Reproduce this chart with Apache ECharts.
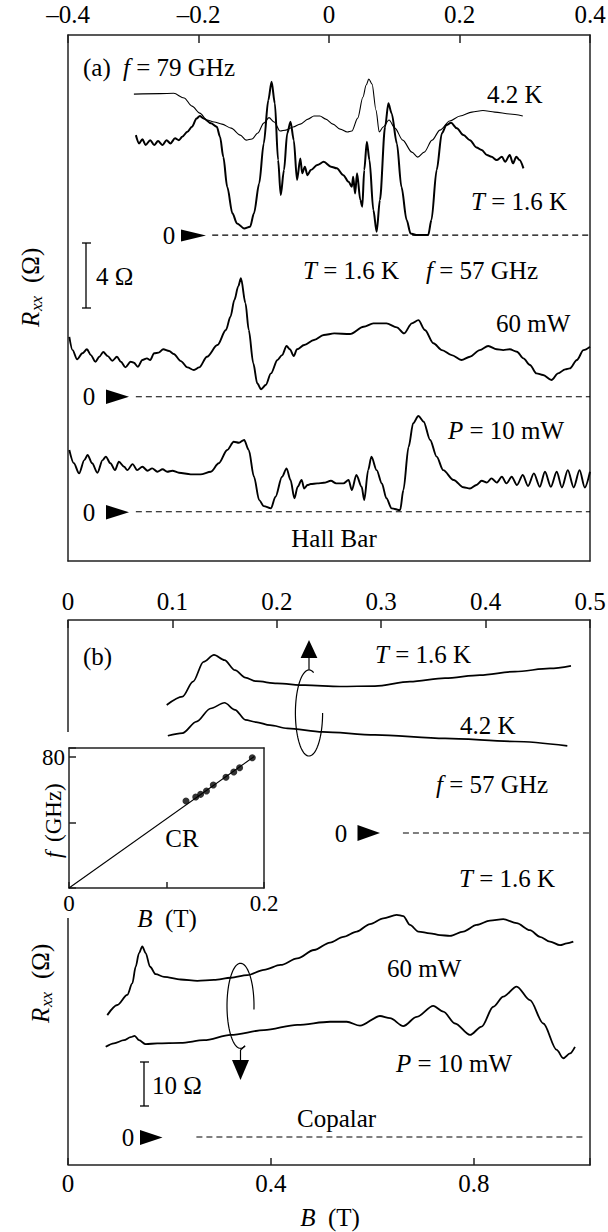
<!DOCTYPE html>
<html><head><meta charset="utf-8">
<script src="https://cdn.jsdelivr.net/npm/echarts@6/dist/echarts.min.js"></script>
<style>html,body{margin:0;padding:0;background:#fff}#c{width:608px;height:1232px}</style>
</head><body><div id="c"></div>
<script>
// ---------- Panel (a), f = 79 GHz : B (T), Rxx (Ohm, relative to own zero) ----------
const a79_T42_B = [-0.299,-0.259,-0.238,-0.222,-0.210,-0.198,-0.187,-0.176,-0.164,-0.150,-0.136,-0.127,-0.118,-0.109,-0.100,-0.092,-0.084,-0.075,-0.066,-0.055,-0.044,-0.032,-0.023,-0.014,-0.005,0.006,0.017,0.028,0.035,0.044,0.052,0.057,0.061,0.066,0.072,0.077,0.083,0.092,0.101,0.113,0.127,0.136,0.146,0.158,0.170,0.185,0.201,0.219,0.236,0.254,0.277,0.297];
const a79_T42_R = [8.70,8.73,8.75,8.46,7.96,7.53,7.10,6.98,6.85,6.60,6.17,5.86,5.93,6.30,6.91,7.25,6.98,6.42,6.48,6.67,6.85,7.16,7.35,7.35,7.16,6.85,6.54,6.36,6.42,7.22,8.52,9.26,9.63,9.32,7.72,6.36,6.67,7.10,6.60,5.86,5.12,4.81,5.12,5.86,6.48,7.04,7.35,7.59,7.69,7.59,7.47,7.35];
const a79_T16_B = [-0.296,-0.291,-0.286,-0.281,-0.274,-0.268,-0.262,-0.255,-0.249,-0.243,-0.236,-0.230,-0.225,-0.217,-0.210,-0.203,-0.198,-0.192,-0.181,-0.172,-0.167,-0.162,-0.156,-0.148,-0.141,-0.130,-0.121,-0.115,-0.107,-0.100,-0.093,-0.088,-0.083,-0.078,-0.074,-0.069,-0.064,-0.059,-0.054,-0.049,-0.044,-0.041,-0.037,-0.033,-0.028,-0.018,-0.008,0.003,0.012,0.022,0.030,0.035,0.037,0.040,0.043,0.048,0.051,0.054,0.058,0.062,0.068,0.073,0.078,0.086,0.091,0.096,0.104,0.111,0.119,0.125,0.134,0.152,0.157,0.165,0.173,0.180,0.187,0.196,0.206,0.216,0.226,0.234,0.242,0.249,0.257,0.265,0.270,0.277,0.282,0.287,0.292,0.298];
const a79_T16_R = [6.17,5.66,5.91,5.56,5.86,5.56,5.80,5.56,5.86,5.66,5.97,5.86,6.07,6.38,6.69,7.20,7.35,7.20,6.90,6.69,6.07,4.83,2.98,1.34,0.72,0.41,0.51,1.34,3.19,5.66,8.33,9.46,8.13,4.63,2.47,4.01,6.28,6.99,5.86,3.40,4.73,3.81,4.22,3.70,4.01,4.32,4.52,4.22,4.12,3.70,3.29,2.98,3.60,2.57,3.81,2.16,1.75,4.01,5.76,4.63,1.54,0.20,2.16,6.69,8.13,7.51,5.66,2.98,0.93,0.10,0.0,0.0,0.93,4.01,6.28,6.79,6.93,6.59,6.17,5.86,5.41,5.25,4.94,4.83,4.63,4.83,4.52,4.94,4.43,4.83,4.63,4.12];
// ---------- Panel (a), f = 57 GHz ----------
const a57_P60_B = [-0.398,-0.393,-0.386,-0.378,-0.371,-0.365,-0.358,-0.352,-0.346,-0.339,-0.332,-0.325,-0.319,-0.312,-0.304,-0.299,-0.293,-0.286,-0.279,-0.274,-0.268,-0.261,-0.254,-0.245,-0.238,-0.227,-0.217,-0.207,-0.199,-0.187,-0.171,-0.158,-0.151,-0.145,-0.139,-0.135,-0.128,-0.123,-0.116,-0.110,-0.104,-0.097,-0.089,-0.079,-0.072,-0.065,-0.060,-0.054,-0.049,-0.038,-0.023,-0.008,0.008,0.032,0.053,0.068,0.088,0.104,0.115,0.127,0.137,0.147,0.160,0.173,0.188,0.203,0.216,0.231,0.244,0.257,0.267,0.277,0.288,0.298,0.308,0.318,0.328,0.341,0.351,0.362,0.369,0.380,0.390,0.400];
const a57_P60_R = [3.70,2.88,2.31,2.68,2.93,2.57,2.16,2.47,2.76,2.51,2.22,2.47,2.16,1.81,2.16,2.10,1.85,2.27,2.37,2.27,2.68,2.72,2.93,2.82,2.64,2.20,1.81,1.65,1.81,2.47,3.19,4.12,4.94,5.97,6.83,7.31,5.77,4.12,2.06,0.83,0.46,0.72,1.44,2.27,2.57,3.13,2.93,2.51,2.93,3.19,3.50,3.81,3.91,3.87,4.32,4.53,4.53,4.28,3.91,4.53,4.73,4.12,3.30,2.88,2.57,2.27,2.47,2.88,3.13,2.93,2.88,2.93,2.78,2.37,1.96,1.44,1.34,1.03,1.44,1.69,1.75,2.27,2.88,3.09];
const a57_P10_B = [-0.398,-0.391,-0.383,-0.375,-0.370,-0.363,-0.355,-0.347,-0.342,-0.335,-0.328,-0.322,-0.314,-0.309,-0.301,-0.294,-0.286,-0.278,-0.271,-0.263,-0.255,-0.248,-0.240,-0.230,-0.212,-0.197,-0.181,-0.169,-0.156,-0.146,-0.138,-0.130,-0.123,-0.115,-0.107,-0.100,-0.089,-0.082,-0.072,-0.065,-0.059,-0.053,-0.048,-0.042,-0.038,-0.033,-0.028,-0.018,-0.008,0.003,0.011,0.022,0.030,0.035,0.042,0.050,0.054,0.060,0.065,0.073,0.081,0.088,0.096,0.109,0.114,0.122,0.129,0.137,0.145,0.155,0.165,0.175,0.191,0.206,0.216,0.226,0.234,0.242,0.249,0.257,0.265,0.272,0.280,0.288,0.297,0.305,0.314,0.323,0.331,0.340,0.349,0.357,0.366,0.375,0.384,0.392,0.400];
const a57_P10_R = [3.81,2.99,2.37,3.19,3.50,2.99,2.41,3.19,3.40,2.99,2.57,3.09,2.78,2.57,2.94,2.57,2.78,2.53,2.68,2.47,2.62,2.47,2.53,2.41,2.31,2.31,2.47,2.99,3.81,4.32,4.26,4.43,3.81,2.16,0.72,0.35,0.21,0.93,2.16,2.68,1.96,0.83,1.54,1.96,1.44,1.65,1.71,1.75,1.79,1.91,1.75,1.75,1.96,1.34,2.27,1.54,0.72,2.57,3.40,2.57,1.75,0.83,0.21,0.10,1.34,4.01,5.46,5.91,5.56,4.43,3.40,2.57,1.96,1.51,1.44,1.65,1.91,1.80,2.06,1.80,2.16,1.75,2.16,1.65,2.27,1.59,2.37,1.54,2.47,1.54,2.47,1.50,2.57,1.50,2.57,1.50,2.47];
// ---------- Panel (b) ----------
const b_T16_B = [0.1945,0.2256,0.2463,0.2670,0.2877,0.3084,0.3291,0.3496,0.3704,0.4118,0.4670,0.5360,0.6049,0.6739,0.7429,0.8118,0.8808,0.9498,0.9911];
const b_T16_R = [29.1,31.0,34.4,38.9,40.5,39.3,37.0,35.3,34.5,34.0,33.6,33.3,33.4,34.4,35.2,35.9,36.7,37.4,38.0];
const b_T42_B = [0.1967,0.2256,0.2532,0.2808,0.3084,0.3291,0.3496,0.3704,0.3980,0.4323,0.5013,0.6049,0.7429,0.8808,0.9839];
const b_T42_R = [22.1,22.7,25.3,28.3,29.6,28.0,25.7,25.2,24.5,23.8,23.0,22.3,21.5,20.8,19.8];
const b_P60_B = [0.0774,0.0971,0.1168,0.1267,0.1334,0.1399,0.1464,0.1531,0.1616,0.1728,0.1892,0.2221,0.2548,0.2877,0.3206,0.3533,0.3862,0.4191,0.4518,0.4847,0.5163,0.5425,0.5689,0.5951,0.6213,0.6477,0.6607,0.6739,0.6903,0.7133,0.7330,0.7527,0.7789,0.8053,0.8315,0.8577,0.8841,0.9103,0.9300,0.9498,0.9695,0.9827,0.9957];
const b_P60_R = [27.7,30.0,32.3,34.9,38.7,41.8,43.3,41.8,38.7,37.0,36.4,35.8,35.5,35.7,36.2,36.8,38.0,39.1,40.6,42.5,44.2,45.5,46.7,48.4,49.7,50.5,50.2,48.2,46.7,46.3,45.9,45.7,46.7,48.2,49.2,49.5,48.6,47.0,45.5,44.4,43.6,44.0,44.4];
const b_P10_B = [0.0743,0.0906,0.1103,0.1235,0.1314,0.1399,0.1531,0.1760,0.2221,0.2680,0.3206,0.3862,0.4518,0.5163,0.5492,0.5754,0.6148,0.6345,0.6607,0.6871,0.7198,0.7395,0.7626,0.7921,0.8152,0.8380,0.8577,0.8841,0.9103,0.9366,0.9630,0.9760,0.9892,0.9990];
const b_P10_R = [20.5,21.3,22.0,22.7,23.0,22.0,21.1,21.3,21.4,22.0,23.2,24.3,25.5,26.2,26.2,25.3,27.5,27.0,25.2,27.3,29.8,28.5,25.8,23.2,25.1,29.6,31.9,34.2,31.1,25.8,19.8,17.9,19.0,20.5];
// ---------- Inset: CR ----------
const cr_B = [0.120,0.130,0.135,0.141,0.148,0.161,0.169,0.175,0.188];
const cr_f = [53.1,55.6,57.2,59.2,62.9,67.6,70.8,73.4,79.5];
const crLine_B = [0, 0.190];
const crLine_f = [0, 80.3];
// ---------- Tick labels ----------
const aTopTicks = [-0.4,-0.2,0,0.2,0.4];
const aTopText  = ['\u20130.4','\u20130.2','0','0.2','0.4'];
const bTopTicks = [0,0.1,0.2,0.3,0.4,0.5];
const bTopText  = ['0','0.1','0.2','0.3','0.4','0.5'];
const bBotTicks = [0,0.4,0.8];
const bBotText  = ['0','0.4','0.8'];
const inXTicks = [0,0.2];
const inXText  = ['0','0.2'];
const inYTicks = [80];
const inYText  = ['80'];

// ---------- layout constants (offsets of stacked curves, Ohm) ----------
const OFF_A_TOP = 17.08, OFF_A_MID = 7.10, OFF_A_BOT = 0;
const OFF_B_TOP = 69.09, OFF_B_BOT = 0;
const B_MAX_BOTTOM = 1.0286;

const FONT = "'Liberation Serif', 'Times New Roman', serif";
const INK = '#000';
const FRAME = '#222';

function fmt(ticks, text) {
  return function (v) {
    for (let i = 0; i < ticks.length; i++) if (Math.abs(v - ticks[i]) < 1e-6) return text[i];
    return '';
  };
}
function curve(B, R, off, xi, yi, w) {
  const n = Math.min(B.length, R.length), d = [];
  for (let i = 0; i < n; i++) d.push([B[i], R[i] + off]);
  return {type:'line', xAxisIndex:xi, yAxisIndex:yi, data:d, showSymbol:false, symbol:'none',
    smooth:0.3, smoothMonotone:'x', lineStyle:{color:INK, width:w, join:'round'}, silent:true, z:3};
}
function zero(x0, x1, off, xi, yi) {
  return {type:'line', xAxisIndex:xi, yAxisIndex:yi, data:[[x0,off],[x1,off]], showSymbol:false, symbol:'none',
    lineStyle:{color:INK, width:1.2, type:[6,4]}, silent:true, z:2};
}
const lineAx = {show:true, onZero:false, lineStyle:{color:FRAME, width:1.5}};
const noLine = {show:false, onZero:false};
const tickIn = (len) => ({show:true, inside:true, length:len, lineStyle:{color:FRAME, width:1.5}});
const lbl = (m, f, size) => ({show:true, margin:m, formatter:f, fontFamily:FONT, fontSize:size||25, color:INK, showMinLabel:true, showMaxLabel:true});
const none = {show:false};

const RICH = (s) => ({
  i:{fontStyle:'italic', fontFamily:FONT, fontSize:s, color:INK}
});
function txt(x, y, text, align, size) {
  size = size || 25;
  return {type:'text', x:x, y:y, z:10, silent:true,
    style:{text:text, fill:INK, fontFamily:FONT, fontSize:size, textAlign:align||'left', verticalAlign:'middle', rich:RICH(size)}};
}
function tri(x0, y0, x1, y1) {
  return {type:'polygon', z:10, silent:true, shape:{points:[[x0,y0],[x0,y1],[x1,(y0+y1)/2]]}, style:{fill:INK}};
}
function seg(x0,y0,x1,y1,w,c) {
  return {type:'line', z:10, silent:true, shape:{x1:x0,y1:y0,x2:x1,y2:y1}, style:{stroke:c||INK, lineWidth:w||1.2}};
}
function openEllipse(cx, cy, rx, ry, a0deg, a1deg) {
  const pts = [];
  for (let k = 0; k <= 80; k++) {
    const t = (a0deg + (a1deg - a0deg) * k / 80) * Math.PI / 180;
    pts.push([cx + rx * Math.cos(t), cy + ry * Math.sin(t)]);
  }
  return {type:'polyline', z:10, silent:true, shape:{points:pts}, style:{stroke:INK, lineWidth:1.2, fill:null}};
}
function rotLabel(x, y, parts) { // vertical label reading bottom -> top
  return {type:'group', x:x, y:y, rotation:Math.PI/2, z:10, silent:true,
    children: parts.map(p => ({type:'text', x:p[1], y:p[2], silent:true,
      style:{text:p[0], fill:INK, fontFamily:FONT, fontSize:(p[3]||25), fontStyle:(p[4]?'italic':'normal'), textAlign:'left', verticalAlign:'middle'}}))};
}

const chart = echarts.init(document.getElementById('c'), null, {renderer:'svg', width:608, height:1232});

const option = {
  animation:false,
  backgroundColor:'#fff',
  textStyle:{fontFamily:FONT},
  grid:[
    {left:68, top:35, width:522, height:526, containLabel:false, outerBoundsMode:'none'},
    {left:68, top:620, width:522, height:545, containLabel:false, outerBoundsMode:'none'},
    {left:69, top:748, width:195, height:140, containLabel:false, outerBoundsMode:'none'}
  ],
  xAxis:[
    {gridIndex:0, type:'value', position:'top', min:-0.4, max:0.4, interval:0.2, axisLine:lineAx, axisTick:tickIn(8), axisLabel:lbl(8, fmt(aTopTicks,aTopText)), splitLine:none},
    {gridIndex:0, type:'value', position:'bottom', min:-0.4, max:0.4, axisLine:lineAx, axisTick:none, axisLabel:none, splitLine:none},
    {gridIndex:1, type:'value', position:'bottom', min:0, max:B_MAX_BOTTOM, interval:0.4, axisLine:lineAx, axisTick:tickIn(7), axisLabel:lbl(6, fmt(bBotTicks,bBotText)), splitLine:none},
    {gridIndex:1, type:'value', position:'top', min:0, max:0.5, interval:0.1, axisLine:lineAx, axisTick:tickIn(8), axisLabel:lbl(6, fmt(bTopTicks,bTopText)), splitLine:none},
    {gridIndex:2, type:'value', position:'bottom', min:0, max:0.2, interval:0.1, axisLine:lineAx, axisTick:tickIn(6), axisLabel:lbl(4, fmt(inXTicks,inXText), 23), splitLine:none},
    {gridIndex:2, type:'value', position:'top', min:0, max:0.2, axisLine:lineAx, axisTick:none, axisLabel:none, splitLine:none}
  ],
  yAxis:[
    {gridIndex:0, type:'value', position:'left', min:-3.04, max:29.43, axisLine:lineAx, axisTick:none, axisLabel:none, splitLine:none},
    {gridIndex:0, type:'value', position:'right', min:-3.04, max:29.43, axisLine:lineAx, axisTick:none, axisLabel:none, splitLine:none},
    {gridIndex:1, type:'value', position:'left', min:-6.36, max:117.5, axisLine:noLine, axisTick:none, axisLabel:none, splitLine:none},
    {gridIndex:1, type:'value', position:'right', min:-6.36, max:117.5, axisLine:lineAx, axisTick:none, axisLabel:none, splitLine:none},
    {gridIndex:2, type:'value', position:'left', min:0, max:85.5, interval:40, axisLine:lineAx, axisTick:tickIn(7), axisLabel:lbl(4, fmt(inYTicks,inYText), 23), splitLine:none},
    {gridIndex:2, type:'value', position:'right', min:0, max:85.5, axisLine:lineAx, axisTick:none, axisLabel:none, splitLine:none}
  ],
  series:[
    curve(a79_T42_B, a79_T42_R, OFF_A_TOP, 0, 0, 1.1),
    curve(a79_T16_B, a79_T16_R, OFF_A_TOP, 0, 0, 2.0),
    curve(a57_P60_B, a57_P60_R, OFF_A_MID, 0, 0, 1.9),
    curve(a57_P10_B, a57_P10_R, OFF_A_BOT, 0, 0, 1.9),
    zero(-0.179, 0.4, OFF_A_TOP, 0, 0),
    zero(-0.296, 0.4, OFF_A_MID, 0, 0),
    zero(-0.296, 0.4, OFF_A_BOT, 0, 0),
    curve(b_T16_B, b_T16_R, OFF_B_TOP, 2, 2, 1.7),
    curve(b_T42_B, b_T42_R, OFF_B_TOP, 2, 2, 1.7),
    curve(b_P60_B, b_P60_R, OFF_B_BOT, 2, 2, 1.8),
    curve(b_P10_B, b_P10_R, OFF_B_BOT, 2, 2, 1.8),
    zero(0.660, B_MAX_BOTTOM, OFF_B_TOP, 2, 2),
    zero(0.253, 1.017, OFF_B_BOT, 2, 2),
    {type:'line', xAxisIndex:4, yAxisIndex:4, data:crLine_B.map((b,i)=>[b, crLine_f[i]]), showSymbol:false, symbol:'none', lineStyle:{color:INK, width:1.1}, silent:true, z:3},
    {type:'scatter', xAxisIndex:4, yAxisIndex:4, data:cr_B.map((b,i)=>[b, cr_f[i]]), symbol:'circle', symbolSize:7, itemStyle:{color:INK}, silent:true, z:4}
  ],
  graphic:[
    // panel (a) annotations
    txt(83, 67, '(a)'),
    txt(123, 67, '{i|f} = 79 GHz'),
    txt(487, 94, '4.2 K'),
    txt(471, 201, '{i|T} = 1.6 K'),
    txt(169, 235.5, '0', 'center'),
    tri(181, 229.5, 206, 241.5),
    seg(86, 243, 86, 308, 1.3), seg(82, 243, 91, 243, 1.3), seg(82, 308, 91, 308, 1.3),
    txt(96, 276, '4 \u03A9'),
    txt(303, 270, '{i|T} = 1.6 K'),
    txt(426, 270, '{i|f} = 57 GHz'),
    txt(496, 323.5, '60 mW'),
    txt(89, 396.7, '0', 'center'),
    tri(106, 389.5, 129, 404),
    txt(448, 430, '{i|P} = 10 mW'),
    txt(89, 512, '0', 'center'),
    tri(106, 505, 129, 519.5),
    txt(334, 538, 'Hall Bar', 'center'),
    rotLabel(30, 327, [['R',0,0,25,true],['xx',16,6,17,true],['(\u03A9)',44,0,25,false]]),
    // panel (b) annotations
    seg(68, 620, 68, 732, 1.5, FRAME),
    seg(68, 918, 68, 1165, 1.5, FRAME),
    txt(83, 656, '(b)'),
    txt(375, 654, '{i|T} = 1.6 K'),
    txt(460, 725, '4.2 K'),
    openEllipse(309, 713, 13.6, 43, -70, -360),
    seg(309, 670, 309, 657, 1.2),
    {type:'polygon', z:10, silent:true, shape:{points:[[309,640],[300.6,658],[317.4,658]]}, style:{fill:INK}},
    txt(436, 784, '{i|f} = 57 GHz'),
    txt(341, 833, '0', 'center'),
    tri(357.5, 825, 380, 841),
    txt(459, 878, '{i|T} = 1.6 K'),
    txt(182, 838, 'CR', 'center'),
    txt(167, 918, '{i|B}  (T)', 'center'),
    txt(387, 968, '60 mW'),
    openEllipse(240.5, 1005.8, 13.5, 42.5, 5, -290),
    seg(245, 1046, 240.5, 1050, 1.2),
    seg(240.5, 1050, 240.5, 1061, 1.2),
    {type:'polygon', z:10, silent:true, shape:{points:[[240.5,1080],[232,1060],[249,1060]]}, style:{fill:INK}},
    txt(396, 1063, '{i|P} = 10 mW'),
    seg(144, 1062, 144, 1106, 1.3), seg(140, 1062, 149, 1062, 1.3), seg(140, 1106, 149, 1106, 1.3),
    txt(152, 1085, '10 \u03A9'),
    txt(297, 1118, 'Copalar'),
    txt(128, 1137, '0', 'center'),
    tri(140, 1130, 162.5, 1145),
    txt(330, 1217, '{i|B}  (T)', 'center'),
    rotLabel(40, 1023, [['R',0,0,25,true],['xx',16,6,17,true],['(\u03A9)',44,0,25,false]]),
    rotLabel(53, 858, [['f',0,0,23,true],['(GHz)',16,0,23,false]])
  ]
};
chart.setOption(option);
</script></body></html>
